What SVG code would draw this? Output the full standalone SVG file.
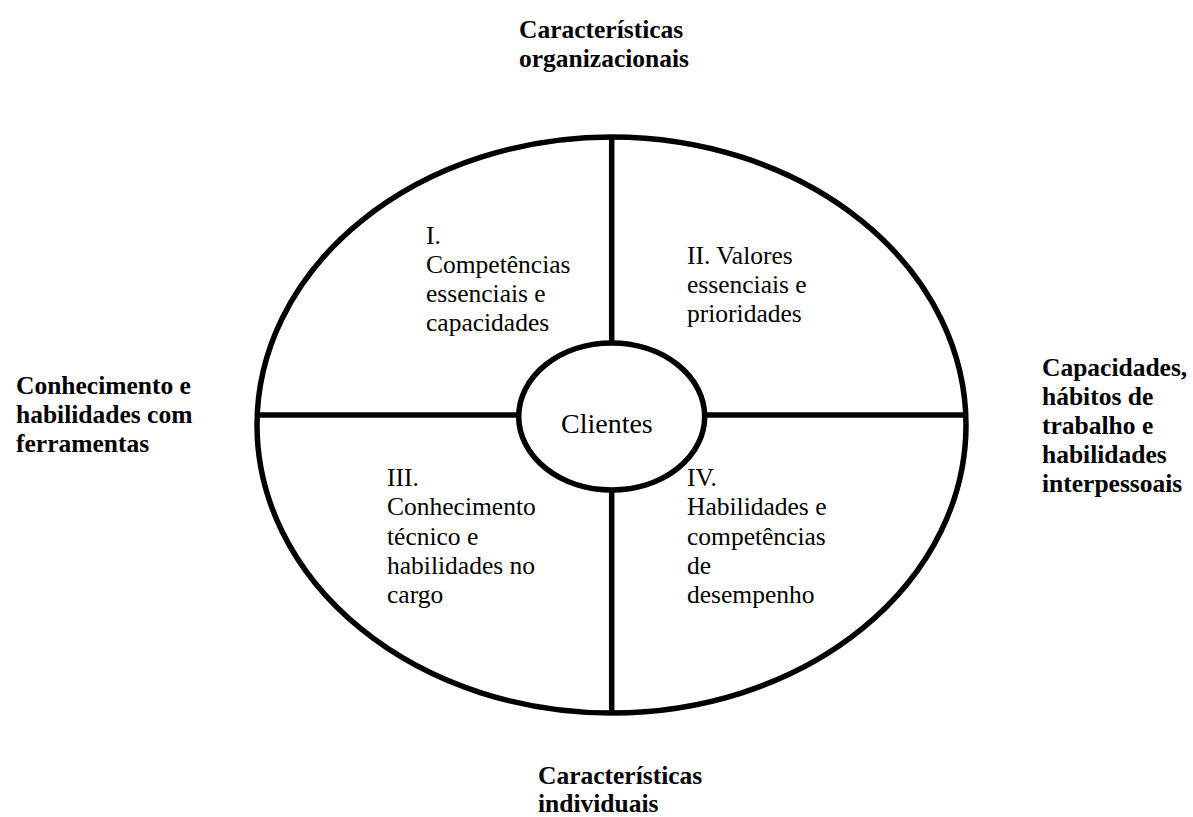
<svg xmlns="http://www.w3.org/2000/svg" width="1193" height="817" viewBox="0 0 1193 817">
  <style>
    .shape { fill: none; stroke: #000; stroke-width: 5.5; }
    .label { font-family: "Liberation Serif", "Times New Roman", serif; font-size: 25.5px; fill: #000; }
    .bold { font-weight: bold; }
    .center { font-size: 28px; }
  </style>
  <rect width="1193" height="817" fill="#fff"/>

  <!-- Outer ring -->
  <g id="outer-ring">
    <ellipse class="shape" cx="611.5" cy="425" rx="354.5" ry="288"/>
  </g>

  <!-- Dividers between the quadrants -->
  <g id="connectors">
    <line class="shape" x1="611.7" y1="137" x2="611.7" y2="343"/>
    <line class="shape" x1="611.7" y1="490" x2="611.7" y2="713"/>
    <line class="shape" x1="257" y1="415" x2="519" y2="415"/>
    <line class="shape" x1="704.5" y1="415" x2="966" y2="415"/>
  </g>

  <!-- Centre -->
  <g id="clientes">
    <ellipse class="shape" cx="611.7" cy="416.5" rx="93" ry="73.5" fill="#fff"/>
    <text class="label center" x="561" y="433">Clientes</text>
  </g>

  <!-- Quadrants -->
  <g id="quadrant-1">
    <text class="label" x="426">
      <tspan x="426" y="244">I.</tspan>
      <tspan x="426" y="273">Competências</tspan>
      <tspan x="426" y="302">essenciais e</tspan>
      <tspan x="426" y="331">capacidades</tspan>
    </text>
  </g>
  <g id="quadrant-2">
    <text class="label" x="687">
      <tspan x="687" y="264">II. Valores</tspan>
      <tspan x="687" y="293">essenciais e</tspan>
      <tspan x="687" y="322">prioridades</tspan>
    </text>
  </g>
  <g id="quadrant-3">
    <text class="label" x="387">
      <tspan x="387" y="486">III.</tspan>
      <tspan x="387" y="515">Conhecimento</tspan>
      <tspan x="387" y="545">técnico e</tspan>
      <tspan x="387" y="574">habilidades no</tspan>
      <tspan x="387" y="603">cargo</tspan>
    </text>
  </g>
  <g id="quadrant-4">
    <text class="label" x="687">
      <tspan x="687" y="486">IV.</tspan>
      <tspan x="687" y="515">Habilidades e</tspan>
      <tspan x="687" y="545">competências</tspan>
      <tspan x="687" y="574">de</tspan>
      <tspan x="687" y="603">desempenho</tspan>
    </text>
  </g>

  <!-- Axis labels -->
  <g id="label-top">
    <text class="label bold">
      <tspan x="519" y="38">Características</tspan>
      <tspan x="519" y="67">organizacionais</tspan>
    </text>
  </g>
  <g id="label-bottom">
    <text class="label bold">
      <tspan x="538" y="784">Características</tspan>
      <tspan x="538" y="812">individuais</tspan>
    </text>
  </g>
  <g id="label-left">
    <text class="label bold">
      <tspan x="16" y="394">Conhecimento e</tspan>
      <tspan x="16" y="423">habilidades com</tspan>
      <tspan x="16" y="452">ferramentas</tspan>
    </text>
  </g>
  <g id="label-right">
    <text class="label bold">
      <tspan x="1042" y="376">Capacidades,</tspan>
      <tspan x="1042" y="405">hábitos de</tspan>
      <tspan x="1042" y="434">trabalho e</tspan>
      <tspan x="1042" y="463">habilidades</tspan>
      <tspan x="1042" y="492">interpessoais</tspan>
    </text>
  </g>
</svg>
